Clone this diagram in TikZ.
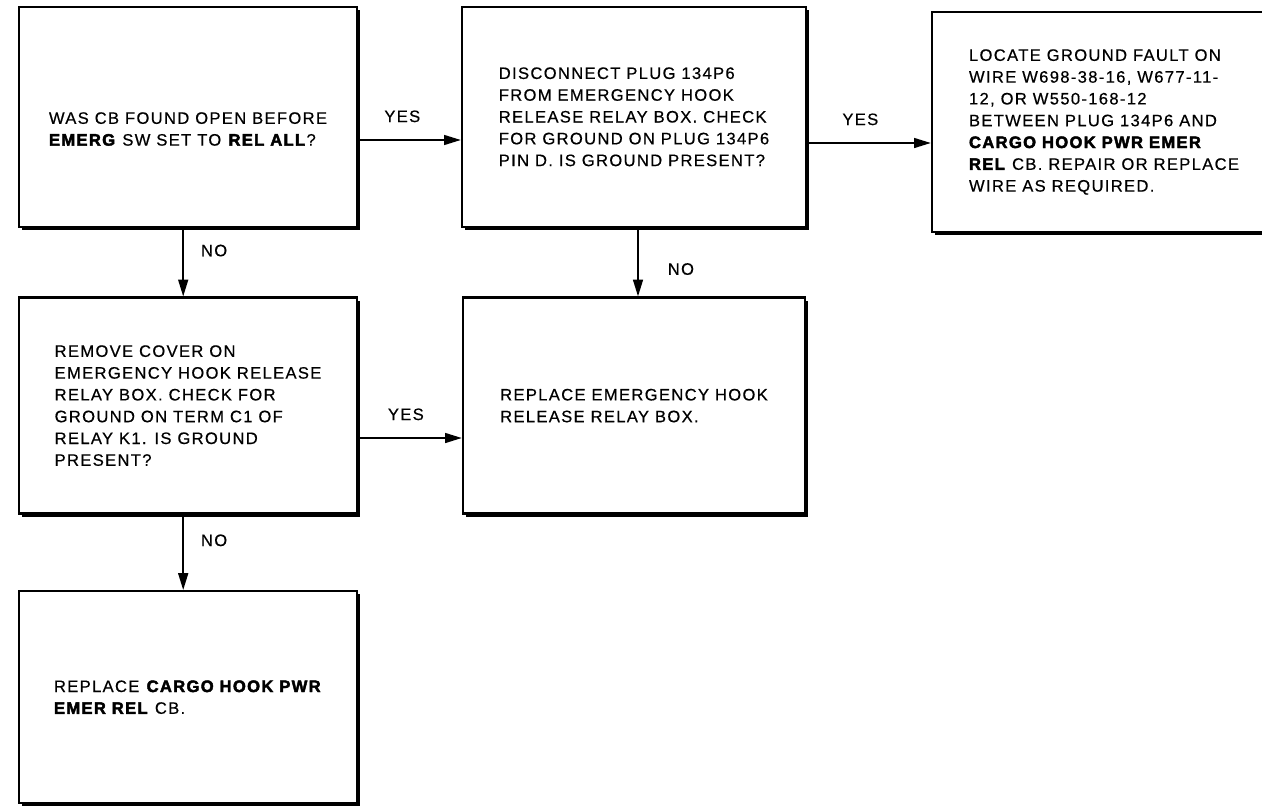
\documentclass[tikz,border=0pt]{standalone}
\usepackage{fontspec}
\setmainfont{Liberation Sans}[LetterSpace=8, FakeBold=0.5, BoldFeatures={FakeBold=2.6}]
\usetikzlibrary{arrows.meta,positioning,shadows}

\begin{document}
\begin{tikzpicture}[
  font=\fontsize{11.8}{15.5}\selectfont,
  stepbox/.style={draw, line width=1.6pt, fill=white, align=left,
    minimum width=8.45cm, minimum height=5.45cm,
    drop shadow={shadow xshift=2.2pt, shadow yshift=-2.2pt, fill=black, opacity=1}},
  flow/.style={line width=1.4pt, -{Triangle[length=12pt,width=7pt]}},
  answer/.style={inner sep=0pt}
]
  \useasboundingbox (0,0) rectangle (31.55,-20.2);

  % top row
  \node[stepbox, minimum height=5.5cm] (cbopen) at (4.7,-2.92)
    {\rule{0pt}{0.9cm}WAS CB FOUND OPEN BEFORE\\\textbf{EMERG} SW SET TO \textbf{REL ALL}?};
  \node[stepbox, minimum width=8.6cm, minimum height=5.5cm] (plugcheck) at (15.85,-2.92)
    {DISCONNECT PLUG 134P6\\FROM EMERGENCY HOOK\\RELEASE RELAY BOX. CHECK\\FOR GROUND ON PLUG 134P6\\PIN D. IS GROUND PRESENT?};
  \node[stepbox, minimum width=8.6cm, minimum height=5.5cm] (wirefault) at (27.6,-3.05)
    {LOCATE GROUND FAULT ON\\WIRE W698-38-16, W677-11-\\12, OR W550-168-12\\BETWEEN PLUG 134P6 AND\\\textbf{CARGO HOOK PWR EMER}\\\textbf{REL} CB. REPAIR OR REPLACE\\WIRE AS REQUIRED.};

  % middle row
  \node[stepbox, minimum height=5.4cm] (relaycheck) at (4.7,-10.14)
    {REMOVE COVER ON\\EMERGENCY HOOK RELEASE\\RELAY BOX. CHECK FOR\\GROUND ON TERM C1 OF\\RELAY K1. IS GROUND\\PRESENT?};
  \node[stepbox, minimum width=8.55cm, minimum height=5.4cm] (relaybox) at (15.85,-10.14)
    {REPLACE EMERGENCY HOOK\\RELEASE RELAY BOX.};

  % bottom row
  \node[stepbox, minimum height=5.3cm] (cbreplace) at (4.7,-17.43)
    {REPLACE \textbf{CARGO HOOK PWR}\\\textbf{EMER REL} CB.};

  % yes / no branches
  \draw[flow] ([yshift=-0.58cm]cbopen.east) -- node[answer, pos=0.43, above=0.42cm] {YES} ([yshift=-0.58cm]plugcheck.west);
  \draw[flow] ([yshift=-0.655cm]plugcheck.east) -- node[answer, pos=0.43, above=0.42cm] {YES} ([yshift=-0.525cm]wirefault.west);
  \draw[flow] ([xshift=-0.12cm]cbopen.south) -- node[answer, pos=0.33, right=0.42cm] {NO} ([xshift=-0.12cm]relaycheck.north);
  \draw[flow] ([xshift=0.1cm]plugcheck.south) -- node[answer, pos=0.6, right=0.72cm] {NO} ([xshift=0.1cm]relaybox.north);
  \draw[flow] ([yshift=-0.81cm]relaycheck.east) -- node[answer, pos=0.46, above=0.42cm] {YES} ([yshift=-0.81cm]relaybox.west);
  \draw[flow] ([xshift=-0.12cm]relaycheck.south) -- node[answer, pos=0.34, right=0.42cm] {NO} ([xshift=-0.12cm]cbreplace.north);
\end{tikzpicture}
\end{document}
